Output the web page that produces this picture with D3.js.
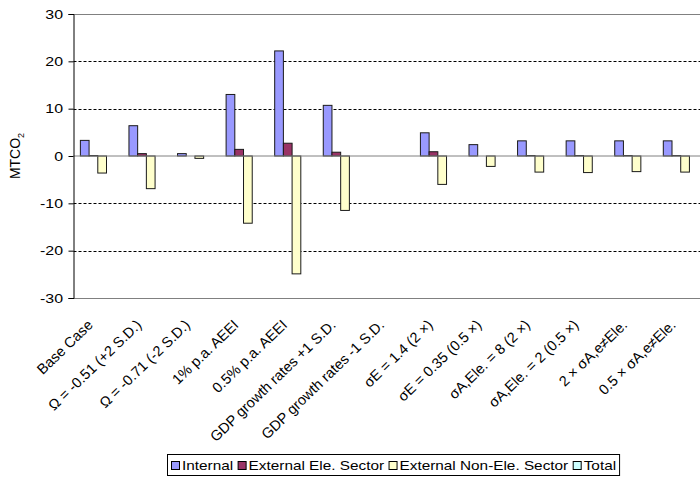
<!DOCTYPE html>
<html>
<head>
<meta charset="utf-8">
<script src="https://cdn.jsdelivr.net/npm/d3@7/dist/d3.min.js"></script>
<style>
  html, body { margin: 0; padding: 0; background: #fff; }
  svg { display: block; font-family: "Liberation Sans", Arial, sans-serif; }
</style>
</head>
<body>
<svg id="chart" width="700" height="477"></svg>
<script>
// Scenario labels along the category axis
const categories = [
  "Base Case",
  "Ω = -0.51 (+2 S.D.)",
  "Ω = -0.71 (-2 S.D.)",
  "1% p.a. AEEI",
  "0.5% p.a. AEEI",
  "GDP growth rates +1 S.D.",
  "GDP growth rates -1 S.D.",
  "σE = 1.4 (2 ×)",
  "σE = 0.35 (0.5 ×)",
  "σA,Ele. = 8 (2 ×)",
  "σA,Ele. = 2 (0.5 ×)",
  "2 × σA,e≠Ele.",
  "0.5 × σA,e≠Ele."
];

// Emission changes (MtCO2) per scenario; null = no result
const internal  = [3.3, 6.4, 0.5, 13.0, 22.2, 10.7, null, 4.9, 2.4, 3.2, 3.2, 3.2, 3.2];
const extEle    = [0.1, 0.5, 0.0, 1.4, 2.7, 0.8, null, 0.9, 0.0, 0.1, 0.1, 0.1, 0.1];
const extNonEle = [-3.6, -6.9, -0.5, -14.2, -24.9, -11.5, null, -6.0, -2.2, -3.4, -3.5, -3.3, -3.4];
const total     = [0.0, 0.0, 0.0, 0.0, 0.0, 0.0, null, 0.0, 0.0, 0.0, 0.0, 0.0, 0.0];

const seriesNames = ["Internal", "External Ele. Sector", "External Non-Ele. Sector", "Total"];
const seriesValues = [internal, extEle, extNonEle, total];
const seriesColors = ["#9999FF", "#993366", "#FFFFCC", "#CCFFFF"];

const yTicks = [-30, -20, -10, 0, 10, 20, 30];

// Horizontal text is drawn slightly widened
const WIDEN = 1.18;

const svg = d3.select("#chart");
const plot = { left: 73.5, top: 14, right: 705, bottom: 298 };

const y = d3.scaleLinear().domain([-30, 30]).range([plot.bottom, plot.top]);
const x0 = d3.scaleBand().domain(categories).range([plot.left, plot.right]).padding(0);
const x1 = d3.scaleBand().domain(seriesNames).range([0, x0.bandwidth()])
  .paddingInner(0).paddingOuter(0.79);

// Horizontal gridlines
const grid = svg.append("g");
yTicks.forEach(t => {
  if (t === 0) return;
  const yy = Math.round(y(t)) + 0.5;
  const edge = (t === 30 || t === -30);
  grid.append("line")
    .attr("x1", plot.left).attr("x2", plot.right)
    .attr("y1", yy).attr("y2", yy)
    .attr("stroke", edge ? "#808080" : "#000")
    .attr("stroke-width", 1)
    .attr("stroke-dasharray", edge ? null : "3,2");
});

// Bars
const rows = categories.map((c, i) => ({
  cat: c,
  vals: seriesNames.map((s, k) => ({ s, k, v: seriesValues[k][i] }))
}));

const groups = svg.append("g").selectAll("g").data(rows).join("g")
  .attr("transform", d => `translate(${x0(d.cat)},0)`);

groups.selectAll("rect")
  .data(d => d.vals.filter(e => e.v !== null))
  .join("rect")
  .attr("x", e => x1(e.s))
  .attr("width", x1.bandwidth())
  .attr("y", e => y(Math.max(0, e.v)))
  .attr("height", e => Math.abs(y(e.v) - y(0)))
  .attr("fill", e => seriesColors[e.k])
  .attr("stroke", "#1a1a1a")
  .attr("stroke-width", 1);

// Zero line
svg.append("line")
  .attr("x1", plot.left).attr("x2", plot.right)
  .attr("y1", y(0)).attr("y2", y(0))
  .attr("stroke", "#808080").attr("stroke-width", 1);

// Value axis (plain hyphen for negatives)
const yAxis = d3.axisLeft(y).tickValues(yTicks).tickSize(5).tickPadding(5)
  .tickFormat(d => String(d));
const yg = svg.append("g").attr("transform", `translate(${plot.left},0)`).call(yAxis);
yg.select(".domain").attr("stroke", "#000");
yg.selectAll(".tick line").attr("stroke", "#000");
yg.selectAll(".tick text")
  .attr("font-size", 13.5).attr("fill", "#000")
  .attr("font-family", "'Liberation Sans', Arial, sans-serif")
  .attr("x", -10.5 / WIDEN)
  .attr("transform", `scale(${WIDEN},1)`);

// Axis title
const title = svg.append("text")
  .attr("transform", "translate(20,156) rotate(-90)")
  .attr("text-anchor", "middle")
  .attr("font-size", 14)
  .attr("fill", "#000");
title.append("tspan").text("MTCO");
title.append("tspan").attr("font-size", 9).attr("dy", 4).text("2");

// Category labels, slanted
svg.append("g").selectAll("text").data(categories).join("text")
  .attr("transform", d => `translate(${x0(d) + x0.bandwidth() / 2 - 4},326) rotate(-44)`)
  .attr("text-anchor", "end")
  .attr("font-size", 14.5)
  .attr("fill", "#000")
  .text(d => d);

// Legend
const legBox = svg.append("rect");
const leg = svg.append("g");
const legBase = 470;
const legStart = 171;
let cx = legStart;
seriesNames.forEach((name, k) => {
  leg.append("rect").attr("x", cx + 0.5).attr("y", legBase - 8.5).attr("width", 8).attr("height", 8)
    .attr("fill", seriesColors[k]).attr("stroke", "#000").attr("stroke-width", 1);
  const t = leg.append("text")
    .attr("transform", `translate(${cx + 11},${legBase}) scale(${WIDEN},1)`)
    .attr("font-size", 13).attr("fill", "#000").text(name);
  cx += 11 + t.node().getComputedTextLength() * WIDEN + 4.5;
});
legBox
  .attr("x", legStart - 3.5).attr("y", 454.5)
  .attr("width", cx - 4.5 - legStart + 7).attr("height", 21)
  .attr("fill", "#fff").attr("stroke", "#000").attr("stroke-width", 1);
</script>
</body>
</html>
